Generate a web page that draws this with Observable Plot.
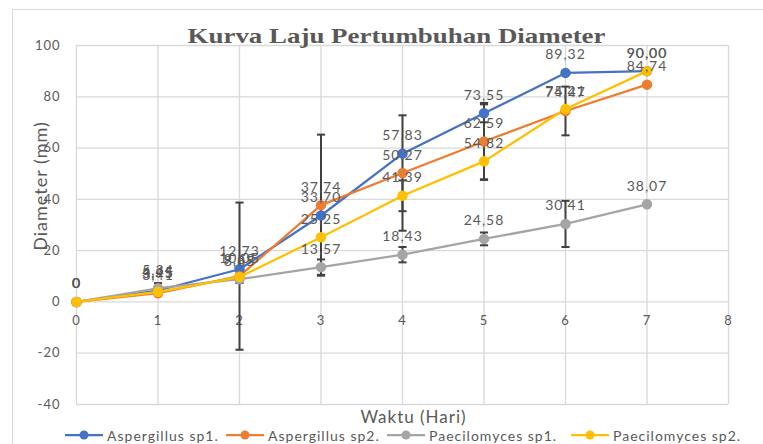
<!DOCTYPE html>
<html>
<head>
<meta charset="utf-8">
<script src="https://cdn.jsdelivr.net/npm/d3@7"></script>
<script src="https://cdn.jsdelivr.net/npm/@observablehq/plot@0.6"></script>
<style>
  html, body { margin: 0; padding: 0; background: #fff; }
  #wrap { position: relative; width: 763px; height: 444px; overflow: hidden; font-family: Lato, "Open Sans", sans-serif; }
  #border { position: absolute; left: 12px; top: 9px; width: 800px; height: 500px; border: 1px solid #d9d9d9; box-sizing: border-box; }
  #chart { position: absolute; left: 0; top: 0; }
  #chart svg text { letter-spacing: 1px; }
  #legend { position: absolute; left: 0; top: 427px; width: 763px; height: 16px; }
  .item { position: absolute; top: 0; height: 16px; display: flex; align-items: center; font-size: 14px; letter-spacing: 1px; color: #595959; white-space: nowrap; }
  .item svg { margin-right: 4px; }
</style>
</head>
<body>
<div id="wrap">
  <div id="border"></div>
  <div id="chart"></div>
  <div id="legend"></div>
</div>
<script>
const titleText = "Kurva Laju Pertumbuhan Diameter";
const xTitle = "Waktu (Hari)";
const yTitle = "Diameter (mm)";

const days = [0, 1, 2, 3, 4, 5, 6, 7];
const seriesNames = ["Aspergillus sp1.", "Aspergillus sp2.", "Paecilomyces sp1.", "Paecilomyces sp2."];
const seriesColors = ["#4472C4", "#ED7D31", "#A5A5A5", "#FFC000"];

const aspergillus1 = [0, 4.45, 12.73, 33.70, 57.83, 73.55, 89.32, 90.00];
const aspergillus2 = [0, 3.41, 10.05, 37.74, 50.27, 62.59, 74.47, 84.74];
const paecilomyces1 = [0, 5.34, 8.85, 13.57, 18.43, 24.58, 30.41, 38.07];
const paecilomyces2 = [0, 3.95, 9.69, 25.25, 41.39, 54.82, 75.21, 90.00];

const errAspergillus1 = [0, 0, 0, 0, 0, 3.5, 0, 0];
const errAspergillus2 = [0, 0, 28.7, 27.5, 22.5, 15, 9.5, 0];
const errPaecilomyces1 = [0, 2, 1.5, 3, 3, 2.5, 9, 0];
const errPaecilomyces2 = [0, 0, 0, 0, 6, 7, 0, 0];

const xTicks = [0, 1, 2, 3, 4, 5, 6, 7, 8];
const yTicks = [-40, -20, 0, 20, 40, 60, 80, 100];

const valuesList = [aspergillus1, aspergillus2, paecilomyces1, paecilomyces2];
const errList = [errAspergillus1, errAspergillus2, errPaecilomyces1, errPaecilomyces2];

const rows = [];
seriesNames.forEach((name, i) => {
  days.forEach((d, j) => {
    rows.push({series: name, x: d, y: valuesList[i][j], err: errList[i][j]});
  });
});
const errRows = rows.filter(r => r.err > 0);

const fmt = v => v === 0 ? "0" : v.toFixed(2).replace(".", ",");
const labelColor = "#595959";
const capHalf = 0.05;

const plot = Plot.plot({
  width: 763,
  height: 427,
  marginLeft: 76,
  marginRight: 35,
  marginTop: 45,
  marginBottom: 23,
  style: {background: "transparent", fontFamily: "Lato, 'Open Sans', sans-serif"},
  x: {domain: [0, 8], axis: null},
  y: {domain: [-40, 100], axis: null},
  color: {domain: seriesNames, range: seriesColors},
  marks: [
    Plot.gridY(yTicks, {stroke: "#d9d9d9", strokeOpacity: 1, strokeWidth: 1.3}),
    Plot.gridX(xTicks, {stroke: "#d9d9d9", strokeOpacity: 1, strokeWidth: 1.3}),
    Plot.axisY(yTicks, {tickSize: 0, tickPadding: 16, fontSize: 13, fill: labelColor, tickFormat: d => String(d), label: null}),
    Plot.text(xTicks, {x: d => d, y: () => 0, dy: 19, text: d => String(d), fontSize: 13, fill: labelColor}),
    // error bars
    Plot.ruleX(errRows, {x: "x", y1: d => d.y - d.err, y2: d => d.y + d.err, stroke: "#404040", strokeWidth: 2}),
    Plot.link(errRows, {x1: d => d.x - capHalf, x2: d => d.x + capHalf, y1: d => d.y + d.err, y2: d => d.y + d.err, stroke: "#404040", strokeWidth: 2}),
    Plot.link(errRows, {x1: d => d.x - capHalf, x2: d => d.x + capHalf, y1: d => d.y - d.err, y2: d => d.y - d.err, stroke: "#404040", strokeWidth: 2}),
    // lines and markers
    ...seriesNames.map(name => Plot.line(rows.filter(r => r.series === name), {x: "x", y: "y", stroke: "series", strokeWidth: 2.25})),
    ...seriesNames.map(name => Plot.dot(rows.filter(r => r.series === name), {x: "x", y: "y", fill: "series", stroke: "series", r: 4.5})),
    // data labels
    Plot.text(rows, {x: "x", y: "y", dy: -18, text: d => fmt(d.y), fontSize: 14, fill: labelColor}),
    // titles
    Plot.text([titleText], {frameAnchor: "top", lineAnchor: "middle", dy: -10, dx: -6, fontSize: 22, fontWeight: "bold", fontFamily: "'Liberation Serif', 'DejaVu Serif', serif", fill: labelColor}),
    Plot.text([xTitle], {frameAnchor: "bottom", lineAnchor: "middle", dy: 13, dx: 11, fontSize: 17, fill: labelColor}),
    Plot.text([yTitle], {frameAnchor: "left", textAnchor: "middle", lineAnchor: "middle", rotate: -90, dx: -35, dy: -39, fontSize: 18, fill: labelColor})
  ]
});

d3.select(plot).selectAll("text").filter(function() { return this.textContent === titleText; })
  .attr("textLength", 418).attr("lengthAdjust", "spacingAndGlyphs").style("letter-spacing", "0px");

document.getElementById("chart").appendChild(plot);

// legend
const legendLefts = [65, 226, 387, 571];
const legend = d3.select("#legend");
seriesNames.forEach((name, i) => {
  const item = legend.append("div").attr("class", "item").style("left", legendLefts[i] + "px");
  const sw = item.append("svg").attr("width", 38).attr("height", 12);
  sw.append("line").attr("x1", 0).attr("x2", 38).attr("y1", 6).attr("y2", 6).attr("stroke", seriesColors[i]).attr("stroke-width", 2.25);
  sw.append("circle").attr("cx", 19).attr("cy", 6).attr("r", 4.5).attr("fill", seriesColors[i]);
  item.append("span").text(name);
});
</script>
</body>
</html>
